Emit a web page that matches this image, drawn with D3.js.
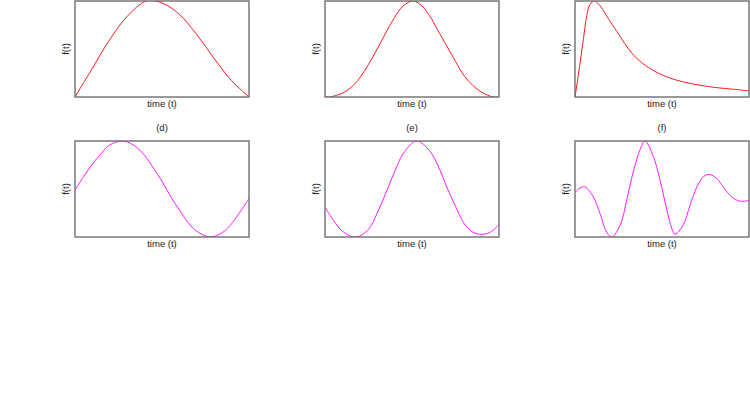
<!DOCTYPE html>
<html>
<head>
<meta charset="utf-8">
<script src="https://cdn.jsdelivr.net/npm/d3@7"></script>
<style>
  body { margin: 0; background: #fff; }
  svg { display: block; }
  text { font-family: "Liberation Sans", Arial, sans-serif; fill: #222; }
</style>
</head>
<body>
<svg id="chart"></svg>
<script>
// sampled curves, time normalised to 0..1, f(t) normalised to 0..1
const timeA = [0, 0.1, 0.2, 0.3, 0.41, 0.5, 0.6, 0.7, 0.8, 0.9, 1];
const valuesA = [0, 0.30, 0.60, 0.84, 1.0, 0.98, 0.86, 0.65, 0.40, 0.17, 0];

const timeB = [0, 0.03, 0.05, 0.1, 0.15, 0.2, 0.25, 0.3, 0.35, 0.4, 0.45, 0.507, 0.55, 0.6, 0.65, 0.7, 0.75, 0.8, 0.85, 0.9, 0.967, 1];
const valuesB = [0, 0, 0.01, 0.04, 0.1, 0.2, 0.34, 0.5, 0.67, 0.83, 0.95, 1.0, 0.96, 0.85, 0.69, 0.53, 0.37, 0.22, 0.12, 0.05, 0, 0];

const timeC = [0, 0.029, 0.048, 0.067, 0.086, 0.111, 0.144, 0.19, 0.24, 0.335, 0.43, 0.527, 0.62, 0.718, 0.81, 0.91, 1];
const valuesC = [0, 0.35, 0.6, 0.84, 0.965, 1.0, 0.95, 0.82, 0.684, 0.439, 0.298, 0.21, 0.158, 0.123, 0.098, 0.081, 0.063];

const timeD = [0, 0.05, 0.1, 0.15, 0.2, 0.268, 0.3, 0.35, 0.4, 0.45, 0.5, 0.55, 0.6, 0.65, 0.7, 0.776, 0.85, 0.9, 1];
const valuesD = [0.49, 0.63, 0.76, 0.87, 0.96, 1.0, 0.99, 0.94, 0.85, 0.72, 0.58, 0.42, 0.28, 0.15, 0.06, 0, 0.05, 0.14, 0.40];

const timeE = [0, 0.05, 0.1, 0.178, 0.25, 0.3, 0.35, 0.4, 0.45, 0.527, 0.6, 0.65, 0.7, 0.75, 0.8, 0.85, 0.9, 0.95, 1];
const valuesE = [0.31, 0.17, 0.06, 0, 0.08, 0.25, 0.46, 0.68, 0.87, 1.0, 0.9, 0.74, 0.52, 0.32, 0.14, 0.05, 0.028, 0.05, 0.13];

const timeF = [0, 0.029, 0.057, 0.105, 0.144, 0.182, 0.21, 0.259, 0.297, 0.335, 0.374, 0.402, 0.45, 0.489, 0.527, 0.556, 0.575, 0.623, 0.661, 0.7, 0.738, 0.772, 0.814, 0.852, 0.9, 0.948, 1];
const valuesF = [0.463, 0.51, 0.523, 0.418, 0.244, 0.05, 0, 0.12, 0.383, 0.68, 0.91, 1.0, 0.84, 0.59, 0.29, 0.09, 0.028, 0.13, 0.33, 0.52, 0.627, 0.652, 0.61, 0.523, 0.418, 0.373, 0.38];

const panelTitles = ['', '', '', '(d)', '(e)', '(f)'];
const xLabel = 'time (t)';
const yLabel = 'f(t)';

const series = [
  [timeA, valuesA], [timeB, valuesB], [timeC, valuesC],
  [timeD, valuesD], [timeE, valuesE], [timeF, valuesF]
];
const lineColors = ['#ff0000', '#ff0000', '#ff0000', '#ff00ff', '#ff00ff', '#ff00ff'];

const width = 750;
const height = 420;
const panelW = 174;
const panelH = 96;

const svg = d3.select('#chart')
  .attr('width', width)
  .attr('height', height);

svg.append('rect')
  .attr('width', width)
  .attr('height', height)
  .attr('fill', '#fff');

series.forEach(([time, values], i) => {
  const col = i % 3;
  const row = Math.floor(i / 3);
  const left = 75 + col * 250;
  const top = 1 + row * 140;

  const x = d3.scaleLinear().domain([0, 1]).range([0, panelW]);
  const y = d3.scaleLinear().domain([0, 1]).range([panelH, 0]);

  const g = svg.append('g')
    .attr('transform', `translate(${left}, ${top})`);

  g.append('clipPath')
    .attr('id', `clip${i}`)
    .append('rect')
    .attr('width', panelW)
    .attr('height', panelH);

  const line = d3.line()
    .x(d => x(d[0]))
    .y(d => y(d[1]))
    .curve(d3.curveCatmullRom.alpha(0.5));

  g.append('path')
    .datum(time.map((t, k) => [t, values[k]]))
    .attr('clip-path', `url(#clip${i})`)
    .attr('fill', 'none')
    .attr('stroke', lineColors[i])
    .attr('stroke-width', 0.9)
    .attr('d', line);

  g.append('rect')
    .attr('width', panelW)
    .attr('height', panelH)
    .attr('fill', 'none')
    .attr('stroke', '#6e6e6e')
    .attr('stroke-width', 1.4);

  g.append('text')
    .attr('x', panelW / 2)
    .attr('y', panelH + 10)
    .attr('text-anchor', 'middle')
    .style('font-size', '9.5px')
    .text(xLabel);

  g.append('text')
    .attr('transform', `translate(-6, ${panelH / 2}) rotate(-90)`)
    .attr('text-anchor', 'middle')
    .style('font-size', '9.5px')
    .text(yLabel);

  if (panelTitles[i]) {
    g.append('text')
      .attr('x', panelW / 2)
      .attr('y', -10)
      .attr('text-anchor', 'middle')
      .style('font-size', '9.5px')
      .text(panelTitles[i]);
  }
});
</script>
</body>
</html>
